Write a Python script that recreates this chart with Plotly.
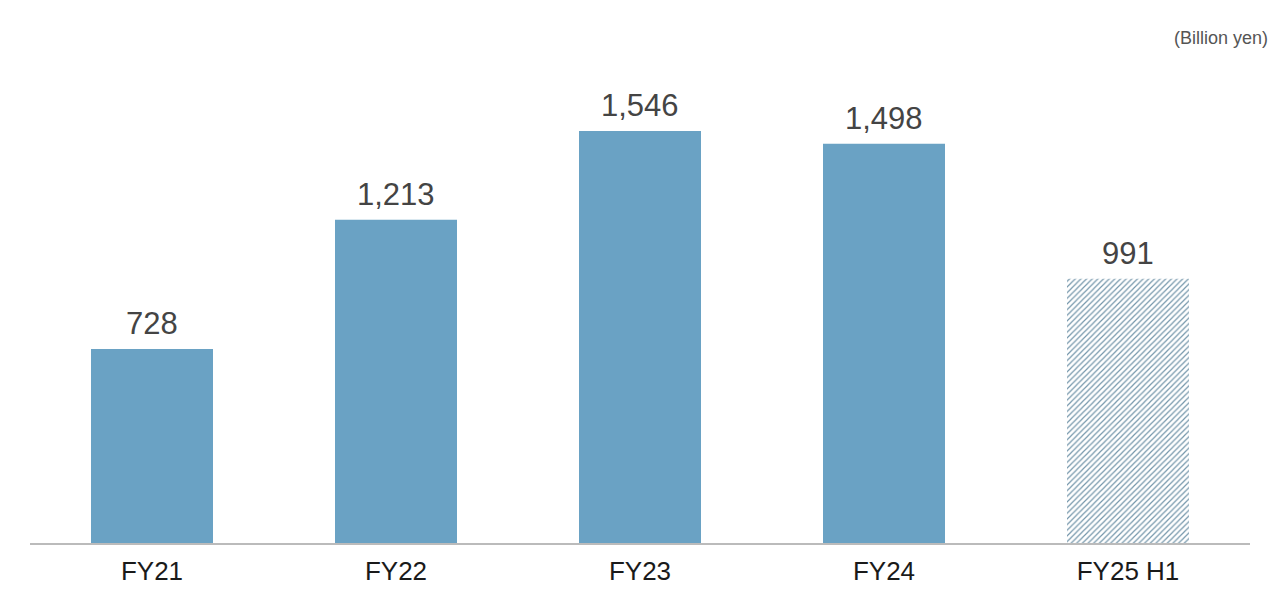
import plotly.graph_objects as go

# values in billion yen
years = ["FY21", "FY22", "FY23", "FY24", "FY25 H1"]
amounts = [728, 1213, 1546, 1498, 991]
labels = ["728", "1,213", "1,546", "1,498", "991"]

bar_colors = ["#6aa2c4", "#6aa2c4", "#6aa2c4", "#6aa2c4", "#7597ab"]
shapes = ["", "", "", "", "/"]

fig = go.Figure()
fig.add_trace(go.Bar(
    x=years,
    y=amounts,
    marker=dict(
        color=bar_colors,
        line=dict(width=0),
        pattern=dict(shape=shapes, size=4, solidity=0.3,
                     bgcolor="white", fillmode="replace"),
    ),
    width=0.5,
    hoverinfo="x+y",
))

# value labels above bars
for yr, val, lab in zip(years, amounts, labels):
    fig.add_annotation(x=yr, y=val, text=lab, showarrow=False,
                       yanchor="bottom", yshift=6,
                       font=dict(size=31, color="#444444", family="Liberation Sans"))

fig.add_annotation(text="(Billion yen)", x=1, y=1.004, xref="paper", yref="paper",
                   xanchor="right", yanchor="middle", showarrow=False,
                   xshift=20, font=dict(size=18, color="#555555", family="Liberation Sans"))

fig.update_layout(
    width=1280, height=605,
    margin=dict(l=30, r=30, t=40, b=62),
    plot_bgcolor="white", paper_bgcolor="white",
    showlegend=False,
    xaxis=dict(showline=True, linecolor="#bbbbbb", linewidth=2, ticks="",
               tickfont=dict(size=26, color="#1a1a1a", family="Liberation Sans"),
               ticklabelstandoff=4),
    yaxis=dict(range=[0, 1887], visible=False, showgrid=False),
)

fig.write_html("out.html", config={"displayModeBar": False},
               post_script="document.body.style.margin='0';document.body.style.overflow='hidden';")
